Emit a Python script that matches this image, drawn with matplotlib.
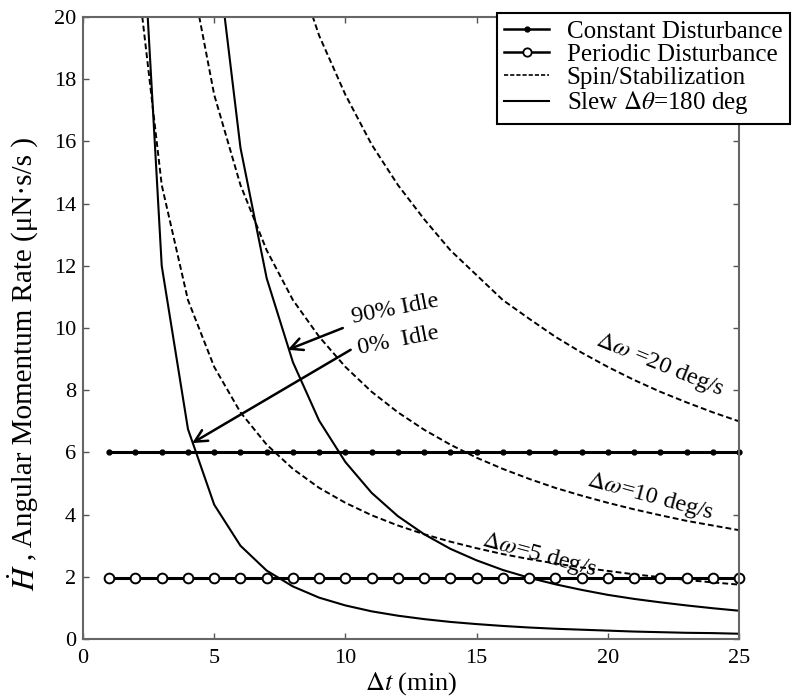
import matplotlib.pyplot as plt
import numpy as np

plt.rcParams['font.family'] = ['Liberation Serif', 'DejaVu Serif']
plt.rcParams['mathtext.fontset'] = 'stix'

# time steps (min)
t = np.arange(1, 26)

# constant / periodic disturbance levels
const_dist = [6.0] * 25
periodic_dist = [1.95] * 25

# spin / stabilization
spin_5 = [43.8, 21.9, 14.6, 10.9, 8.75, 7.29, 6.25, 5.47, 4.86, 4.38,
          3.98, 3.65, 3.37, 3.13, 2.92, 2.73, 2.57, 2.43, 2.30, 2.19,
          2.08, 1.99, 1.90, 1.82, 1.75]
spin_10 = [87.5, 43.8, 29.2, 21.9, 17.5, 14.6, 12.5, 10.9, 9.72, 8.75,
           7.95, 7.29, 6.73, 6.25, 5.83, 5.47, 5.15, 4.86, 4.61, 4.38,
           4.17, 3.98, 3.80, 3.65, 3.50]
spin_20 = [175.0, 87.5, 58.3, 43.8, 35.0, 29.2, 25.0, 21.9, 19.4, 17.5,
           15.9, 14.6, 13.5, 12.5, 11.7, 10.9, 10.3, 9.72, 9.21, 8.75,
           8.33, 7.95, 7.61, 7.29, 7.00]

# slew 180 deg, 0% and 90% idle
slew_0 = [108.0, 27.0, 12.0, 6.75, 4.32, 3.00, 2.20, 1.69, 1.33, 1.08,
          0.89, 0.75, 0.64, 0.55, 0.48, 0.42, 0.37, 0.33, 0.30, 0.27,
          0.24, 0.22, 0.20, 0.19, 0.17]
slew_90 = [569.0, 142.0, 63.2, 35.6, 22.8, 15.8, 11.6, 8.90, 7.02, 5.69,
           4.70, 3.95, 3.37, 2.90, 2.53, 2.22, 1.97, 1.76, 1.58, 1.42,
           1.29, 1.18, 1.08, 0.99, 0.91]

fig = plt.figure(figsize=(7.92, 6.98), dpi=100)
ax = fig.add_axes([0.1048, 0.0845, 0.8283, 0.8911])

dash = (3, 1.6)
ax.plot(t, spin_5, color='k', lw=1.4, dashes=dash)
ax.plot(t, spin_10, color='k', lw=1.4, dashes=dash)
ax.plot(t, spin_20, color='k', lw=1.4, dashes=dash)
ax.plot(t, slew_0, color='k', lw=1.5)
ax.plot(t, slew_90, color='k', lw=1.5)
ax.plot(t, const_dist, color='k', lw=2.2, marker='o', ms=3.5, clip_on=False)
ax.plot(t, periodic_dist, color='k', lw=2.2, marker='o', ms=7, mfc='white',
        mew=1.4, clip_on=False)

ax.set_xlim(0, 25)
ax.set_ylim(0, 20)
ax.set_xticks([0, 5, 10, 15, 20, 25])
ax.set_yticks(np.arange(0, 21, 2))
ax.tick_params(direction='in', length=4, width=1, color='#555555',
               top=True, right=True, labelsize=16)
ax.tick_params(axis='x', pad=7)
ax.tick_params(axis='y', pad=5)
for s in ax.spines.values():
    s.set_color('#666666')
    s.set_linewidth(1.5)

ax.set_xlabel(r'$\Delta t$ (min)', fontsize=19, labelpad=2)
fig.text(26/792, 1-578/698, r'$\dot{H}$', rotation=90, fontsize=23,
         ha='center', va='center')
fig.text(25/792, 1-560/698, ', Angular Momentum Rate (\u03bcN\u00b7s/s )',
         rotation=90, fontsize=21, ha='center', va='bottom')

# curve labels
ax.text(22.0, 8.8, r'$\Delta\omega$ =20 deg/s', fontsize=17.5, rotation=-22,
        ha='center', va='center')
ax.text(21.6, 4.57, r'$\Delta\omega$=10 deg/s', fontsize=17.5, rotation=-15,
        ha='center', va='center')
ax.text(17.4, 2.7, r'$\Delta\omega$=5 deg/s', fontsize=17.5, rotation=-15,
        ha='center', va='center')
ax.text(11.9, 10.6, '90% Idle', fontsize=17.5, rotation=11,
        ha='center', va='center')
ax.text(12.0, 9.6, '0%  Idle', fontsize=17.5, rotation=11,
        ha='center', va='center')

arrow = dict(arrowstyle='->', lw=1.8, color='k', mutation_scale=22,
             shrinkA=0, shrinkB=0)
ax.annotate('', xy=(7.8, 9.3), xytext=(9.9, 10.0), arrowprops=arrow)
ax.annotate('', xy=(4.16, 6.3), xytext=(10.2, 9.3), arrowprops=arrow)

# legend
h1, = ax.plot([], [], color='k', lw=1.8, marker='o', ms=3.5)
h2, = ax.plot([], [], color='k', lw=1.8, marker='o', ms=6, mfc='white', mew=1.3)
h3, = ax.plot([], [], color='k', lw=1.2, dashes=(2.5, 1.2))
h4, = ax.plot([], [], color='k', lw=1.5)
leg = fig.legend([h1, h2, h3, h4],
                 ['Constant Disturbance', 'Periodic Disturbance',
                  'Spin/Stabilization', r'Slew $\Delta\theta$=180 deg'],
                 loc='upper right', bbox_to_anchor=(790/792, 1-13/698),
                 fontsize=18, numpoints=1, handlelength=1.8, handletextpad=0.7,
                 labelspacing=0.02, borderpad=0.3, borderaxespad=0,
                 fancybox=False, framealpha=1, edgecolor='k')
leg.get_frame().set_linewidth(1.5)

plt.savefig('out.png', dpi=100)
